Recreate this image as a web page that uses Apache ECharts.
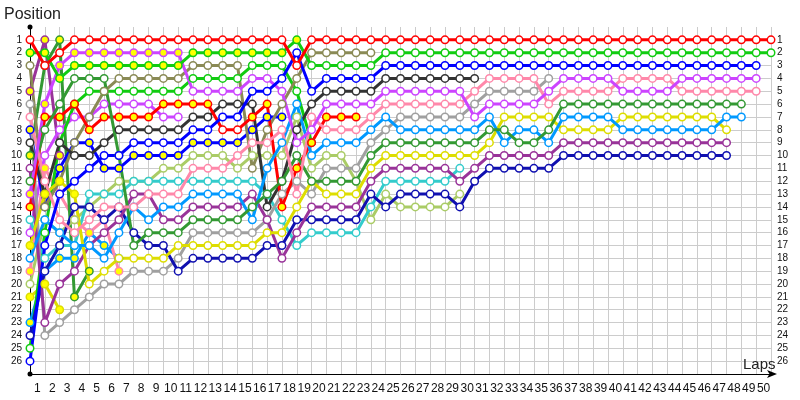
<!DOCTYPE html>
<html>
<head>
<meta charset="utf-8">
<title>Lap chart</title>
<script src="https://cdn.jsdelivr.net/npm/echarts@6/dist/echarts.min.js"></script>
<style>
  html, body { margin: 0; padding: 0; background: #fff; }
  #chart { width: 800px; height: 400px; }
</style>
</head>
<body>
<div id="chart"></div>
<script>
// x axis labels, one per lap
const lapLabels = ['1','2','3','4','5','6','7','8','9','10','11','12','13','14','15','16','17','18','19','20',
  '21','22','23','24','25','26','27','28','29','30','31','32','33','34','35','36','37','38','39','40',
  '41','42','43','44','45','46','47','48','49','50']

// position of each car per lap, index 0 = starting grid
const redA = [1,3,2,1,1,1,1,1,1,1, 1,1,1,1,1,1,1,1,3,1, 1,1,1,1,1,1,1,1,1,1,
  1,1,1,1,1,1,1,1,1,1, 1,1,1,1,1,1,1,1,1,1, 1]
const greenA = [2,2,4,3,3,3,3,3,3,3, 3,2,2,2,2,2,2,2,1,3, 3,3,3,3,2,2,2,2,2,2,
  2,2,2,2,2,2,2,2,2,2, 2,2,2,2,2,2,2,2,2,2, 2]
const olive = [3,14,12,9,7,5,4,4,4,4, 4,3,3,3,3,11,8,6,4,2, 2,2,2,2]
const blueB = [26,17,13,12,11,10,10,9,9,9, 9,8,8,7,7,5,5,4,2,5, 4,4,4,4,3,3,3,3,3,3,
  3,3,3,3,3,3,3,3,3,3, 3,3,3,3,3,3,3,3,3,3]
const black = [9,13,9,10,10,9,8,8,8,8, 8,7,7,6,6,6,14,12,8,6, 5,5,5,5,4,4,4,4,4,4, 4]
const violetA = [13,6,3,2,2,2,2,2,2,2, 2,5,5,5,5,4,4,5,9,8, 6,6,6,6,5,5,5,5,5,5,
  7,6,6,6,6,5,4,4,4,4, 5,5,5,5,4,4,4,4,4,4]
const pinkA = [7,12,15,16,15,14,14,14,13,13, 13,11,11,11,10,9,9,8,13,7, 8,8,8,7,6,6,6,6,6,6,
  5,4,4,4,4,6,5,5,5,5, 4,4,4,4,5,5,5,5,5,5]
const dkgreenB = [12,8,6,4,4,4,10,17,16,16, 16,15,15,15,15,14,13,12,10,12, 12,12,12,10,9,9,9,9,9,9,
  9,8,8,9,9,8,6,6,6,6, 6,6,6,6,6,6,6,6,6]
const greenB = [25,16,9,6,5,5,5,5,5,5, 5,4,4,4,4,3,3,3,5,9]
const dkgreenA = [10,3,1,21,19]
const redB = [14,7,7,6,8,7,7,7,7,6, 6,6,6,8,8,7,6,14,11,9, 7,7,7]
const blueA = [8,14,11,9,9,11,11,10,10,10, 10,9,9,9,9,8,7,7]
const violetB = [16,10,8,7,7,6,6,6,6,7, 7]
const ltgreen = [20,15,16,15,14,13,12,12,12,11, 11,10,10,10,11,10,10,10,7,11, 10,10,12,15,13,14,14,14,14,13]
const cyan = [15,18,17,17,13,13,13,12,12,12, 12,12,12,12,12,12,13,15,17,16, 16,16,16,14,12,12,12,12,12,11]
const dodgerA = [18,15,16,17,17,18,16,14,15,14, 14,13,13,13,13,15,11,9,6,10, 9,9,9,8,7,8,8,8,8,8,
  8,7,9,8,8,9,7,7,7,7, 8,8,8,8,8,8,8,7,7]
const dodgerB = [23,19,18,18,16,17,18]
const pinkB = [19,11,13,15,16,15,19]
const purpleB = [11,23,20,19,17,16,15,13,13,15, 15,14,14,14,14,13,15,18,16,14, 14,14,14,12,11,11,11,11,11,12,
  11,10,10,10,10,10,9,9,9,9, 9,9,9,9,9,9,9,9]
const purpleA = [5,1,10]
const yellowA = [17,13,12,13,20,19,18,18,18,18, 17,17,17,17,17,17,16,16,14,12, 13,13,13,11,10,10,10,10,10,10,
  10,9,7,7,7,7,8,8,8,8, 7,7,7,7,7,7,7,8]
const yellowB = [21,20,22]
const grayA = [6,24,23,22,21,20,20,19,19,19, 18,16,16,16,16,16,15,13,12,13, 11,11,11,9,8,7,7,7,7,7,
  6,5,5,5,5,4]
const navy = [24,19,17,14,14,15,14,16,17,17, 19,18,18,18,18,18,17,17,15,15, 15,15,15,13,14,13,13,13,13,14,
  12,11,11,11,11,11,10,10,10,10, 10,10,10,10,10,10,10,10]

// lap ranges where the marker is filled yellow
const greenAYellow = [[0, 18]]
const violetAYellow = [[0, 10]]
const redBYellow = [[0, 12], [15, 22]]
const yellowAYellow = [[0, 3]]
const allYellow = [[0, 50]]

const COLORS = {
  red: '#ff0000',
  green: '#11cc11',
  blue: '#0000ff',
  violet: '#cc44ff',
  pink: '#ff88aa',
  dkgreen: '#339933',
  dodger: '#0099ff',
  yellow: '#dddd00',
  purple: '#993399',
  navy: '#1010b0',
  olive: '#8a8a55',
  black: '#333333',
  gray: '#a0a0a0',
  ltgreen: '#aacc66',
  cyan: '#33cccc',
}

// drawn bottom to top
const drivers = [
  [yellowB, COLORS.yellow, allYellow],
  [dodgerB, COLORS.dodger, allYellow],
  [pinkB, COLORS.pink, allYellow],
  [dkgreenA, COLORS.dkgreen, allYellow],
  [purpleA, COLORS.purple, allYellow],
  [violetB, COLORS.violet, []],
  [blueA, COLORS.blue, allYellow],
  [greenB, COLORS.green, []],
  [olive, COLORS.olive, []],
  [ltgreen, COLORS.ltgreen, []],
  [cyan, COLORS.cyan, []],
  [grayA, COLORS.gray, []],
  [black, COLORS.black, []],
  [redB, COLORS.red, redBYellow],
  [navy, COLORS.navy, []],
  [purpleB, COLORS.purple, []],
  [yellowA, COLORS.yellow, yellowAYellow],
  [dodgerA, COLORS.dodger, []],
  [dkgreenB, COLORS.dkgreen, []],
  [pinkA, COLORS.pink, []],
  [violetA, COLORS.violet, violetAYellow],
  [blueB, COLORS.blue, []],
  [greenA, COLORS.green, greenAYellow],
  [redA, COLORS.red, []],
]

const FONT = '"Liberation Sans", Arial, sans-serif'

const toData = (pos, yellow) =>
  pos.map((p, lap) => {
    const filled = yellow.some(([a, b]) => lap >= a && lap <= b)
    return filled ? { value: [lap, p], itemStyle: { color: '#ffff00' } } : [lap, p]
  })

const series = drivers.map(([pos, color, yellow]) => ({
  type: 'line',
  data: toData(pos, yellow),
  symbol: 'circle',
  symbolSize: 7.5,
  showAllSymbol: true,
  lineStyle: { color, width: 3 },
  itemStyle: { color: '#fff', borderColor: color, borderWidth: 1.5 },
  emphasis: { disabled: true },
}))

const posLabel = (v) => (v >= 1 && v <= 26 ? String(v) : '')

const chart = echarts.init(document.getElementById('chart'))
chart.setOption({
  animation: false,
  backgroundColor: '#fff',
  title: [
    { text: 'Position', left: 4, top: 7, padding: 0,
      textStyle: { fontSize: 16, fontWeight: 'normal', color: '#222', fontFamily: FONT } },
    { text: 'Laps', left: 743, top: 357, padding: 0,
      textStyle: { fontSize: 15, fontWeight: 'normal', color: '#222', fontFamily: FONT } },
  ],
  grid: { left: 30, right: 29, top: 27, bottom: 26 },
  xAxis: [
    {
      type: 'value',
      min: 0,
      max: 50,
      interval: 1,
      axisLine: {
        show: true,
        onZero: false,
        lineStyle: { color: '#000', width: 1 },
        symbol: ['none', 'arrow'],
        symbolSize: [6, 10],
        symbolOffset: [0, 6],
      },
      axisTick: { show: false },
      axisLabel: { show: false },
      splitLine: { show: true, lineStyle: { color: '#cccccc', width: 1 } },
    },
    {
      type: 'category',
      data: lapLabels,
      boundaryGap: true,
      position: 'bottom',
      axisLine: { show: false },
      axisTick: { show: false },
      axisLabel: { interval: 0, fontSize: 12, color: '#111', margin: 9, fontFamily: FONT },
      splitLine: { show: false },
    },
  ],
  yAxis: [
    {
      type: 'value',
      inverse: true,
      min: 0,
      max: 27,
      interval: 1,
      axisLine: {
        show: true,
        onZero: false,
        lineStyle: { color: '#000', width: 1 },
        symbol: ['circle', 'circle'],
        symbolSize: [5, 5],
      },
      axisTick: { show: false },
      axisLabel: { formatter: posLabel, fontSize: 10, color: '#111', margin: 8, fontFamily: FONT },
      splitLine: { show: true, showMinLine: false, lineStyle: { color: '#cccccc', width: 1 } },
    },
    {
      type: 'value',
      inverse: true,
      min: 0,
      max: 27,
      interval: 1,
      position: 'right',
      axisLine: { show: false },
      axisTick: { show: false },
      axisLabel: { formatter: posLabel, fontSize: 10, color: '#111', margin: 6, fontFamily: FONT },
      splitLine: { show: false },
    },
  ],
  series,
})
</script>
</body>
</html>
